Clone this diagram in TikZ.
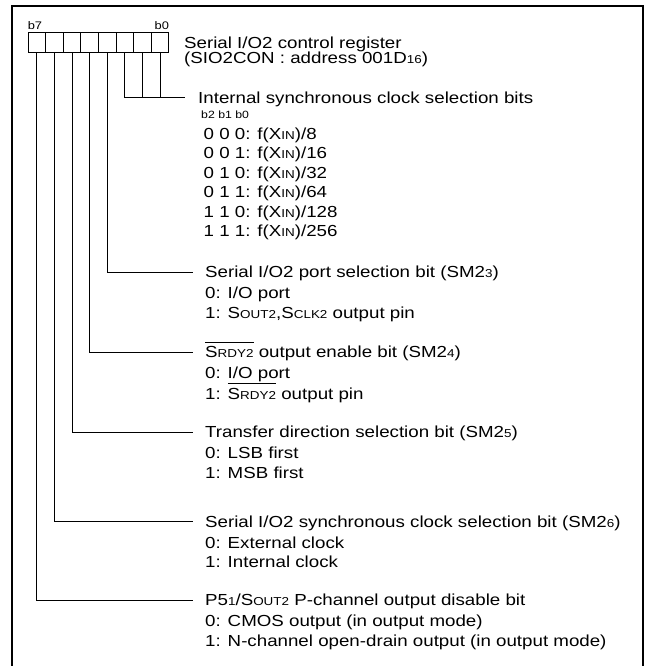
\documentclass[tikz,border=0pt]{standalone}
\usepackage{fontspec}
\setmainfont{Liberation Sans}[FakeStretch=1.17]
\usetikzlibrary{positioning}
\newcommand{\smtxt}[1]{{\fontsize{11.5}{11.5}\selectfont #1}}
\newcommand{\ovl}[1]{$\overline{\hbox{\rule{0pt}{14.5pt}#1}}$}

\begin{document}
\begin{tikzpicture}[x=1pt,y=-1pt,
	bitbox/.style={draw,line width=0.9pt,minimum width=17.6pt,minimum height=20.5pt,inner sep=0pt},
	head/.style={anchor=west,inner sep=0pt,font=\fontsize{16}{19.5}\selectfont,text height=11.5pt,text depth=0pt},
	body/.style={align=left,inner sep=0pt,font=\fontsize{16}{19.5}\selectfont},
	conn/.style={line width=0.9pt}]
	\useasboundingbox (0,0) rectangle (648,666);
	\draw[line width=2.2pt] (12,666) |- (643,6) -- (643,666);
	\foreach \b [count=\n] in {7,6,5,4,3,2,1,0}
		\node[bitbox] (B\b) at (19.2+\n*17.6,42.25) {};
	\node[anchor=south west,inner sep=0pt,font=\fontsize{11}{11}\selectfont] (lb7) at ([yshift=2pt]B7.north west) {b7};
	\node[anchor=south east,inner sep=0pt,font=\fontsize{11}{11}\selectfont] (lb0) at ([yshift=2pt]B0.north east) {b0};
	\node[body,anchor=north west,font=\fontsize{16}{15}\selectfont] (title) at (184,36.5) {Serial I/O2 control register\\(SIO2CON : address 001D\smtxt{16})};

	\node[head] (clksel) at (198,97.5) {Internal synchronous clock selection bits};
	\node[below right=7pt and 3pt of clksel.south west,inner sep=0pt,font=\fontsize{10.5}{10.5}\selectfont] (bitcol) {b2 b1 b0};
	\node[body,below right=9pt and 2.5pt of bitcol.south west] (clkopt) {0 0 0: f(X\smtxt{IN})/8\\0 0 1: f(X\smtxt{IN})/16\\0 1 0: f(X\smtxt{IN})/32\\0 1 1: f(X\smtxt{IN})/64\\1 1 0: f(X\smtxt{IN})/128\\1 1 1: f(X\smtxt{IN})/256};

	\node[head] (portsel) at (205,272) {Serial I/O2 port selection bit (SM2\smtxt{3})};
	\node[body,below right=9pt and 0pt of portsel.south west] (portopt) {0: I/O port\\1: S\smtxt{OUT2},S\smtxt{CLK2} output pin};

	\node[head] (rdysel) at (205,352) {\ovl{S\smtxt{RDY2}} output enable bit (SM2\smtxt{4})};
	\node[body,below right=9pt and 0pt of rdysel.south west] (rdyopt) {0: I/O port\\1: \ovl{S\smtxt{RDY2}} output pin};

	\node[head] (dirsel) at (205,432) {Transfer direction selection bit (SM2\smtxt{5})};
	\node[body,below right=9pt and 0pt of dirsel.south west] (diropt) {0: LSB first\\1: MSB first};

	\node[head] (srcsel) at (205,521.5) {Serial I/O2 synchronous clock selection bit (SM2\smtxt{6})};
	\node[body,below right=9pt and 0pt of srcsel.south west] (srcopt) {0: External clock\\1: Internal clock};

	\node[head] (pchsel) at (205,600) {P5\smtxt{1}/S\smtxt{OUT2} P-channel output disable bit};
	\node[body,below right=9pt and 0pt of pchsel.south west] (pchopt) {0: CMOS output (in output mode)\\1: N-channel open-drain output (in output mode)};

	\draw[conn,shorten >=13pt] (B2.south) |- (clksel.west);
	\foreach \b in {1,0}
		\draw[conn] (B\b.south) -- (B\b.south |- clksel.west);
	\draw[conn,shorten >=12pt] (B3.south) |- (portsel.west);
	\draw[conn,shorten >=12pt] (B4.south) |- (rdysel.west);
	\draw[conn,shorten >=12pt] (B5.south) |- (dirsel.west);
	\draw[conn,shorten >=12pt] (B6.south) |- (srcsel.west);
	\draw[conn,shorten >=12pt] (B7.south) |- (pchsel.west);
\end{tikzpicture}
\end{document}
